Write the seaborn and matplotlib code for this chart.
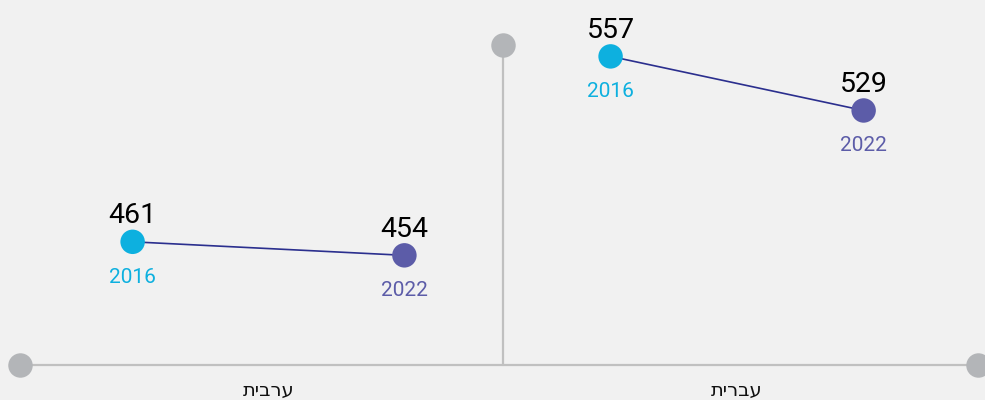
import matplotlib.pyplot as plt
import numpy as np
import pandas as pd
import seaborn as sns

# data
languages = ['ערבית', 'עברית']
years = ['2016', '2022']
scores_2016 = [461, 557]
scores_2022 = [454, 529]

year_colors = {'2016': '#0db0df', '2022': '#5c5ca8'}
line_color = '#2b2f8e'
gray = '#b3b5b8'
bg = '#f1f1f1'

# half distance between the two years inside each group (axis units)
spread = [0.29, 0.27]

rows = []
for i, lang in enumerate(languages):
    for j, (year, score) in enumerate(zip(years, [scores_2016[i], scores_2022[i]])):
        rows.append({'language': lang, 'year': year, 'score': score,
                     'x': i + (j * 2 - 1) * spread[i]})
df = pd.DataFrame(rows)

sns.set_theme(style='white')
plt.rcParams['font.family'] = ['Roboto', 'DejaVu Sans']

fig = plt.figure(figsize=(9.85, 4), dpi=100, facecolor=bg)
ax = fig.add_axes([0, 0, 1, 1])
ax.set_facecolor(bg)

baseline = 397
ax.set_xlim(-0.573, 1.529)
ax.set_ylim(379.1, 586.2)

# frame: baseline and divider with round caps
ax.plot([-0.53, 1.514], [baseline, baseline], color='#c0c0c0', lw=1.6, zorder=1)
ax.plot([0.5, 0.5], [baseline, 562.9], color='#c0c0c0', lw=1.6, zorder=1)
ax.scatter([-0.53, 1.514, 0.5], [baseline, baseline, 562.9], s=310, color=gray,
           linewidths=0, zorder=2, clip_on=False)

sns.lineplot(data=df, x='x', y='score', units='language', estimator=None,
             color=line_color, lw=1.2, ax=ax, zorder=2)
sns.scatterplot(data=df, x='x', y='score', hue='year', palette=year_colors,
                s=310, linewidth=0, legend=False, ax=ax, zorder=3)

for _, r in df.iterrows():
    ax.annotate(str(r['score']), (r['x'], r['score']), xytext=(0, 13.5),
                textcoords='offset points', ha='center', va='baseline',
                fontsize=20.5, color='black')
    ax.annotate(r['year'], (r['x'], r['score']), xytext=(0, -29.5),
                textcoords='offset points', ha='center', va='baseline',
                fontsize=15, color=year_colors[r['year']])

# hebrew labels under each group (reversed for right-to-left display)
for i, lang in enumerate(languages):
    ax.annotate(lang[::-1], (i, baseline), xytext=(0, -22),
                textcoords='offset points', ha='center', va='baseline',
                fontsize=14, color='#111111', family=['DejaVu Sans'])

ax.axis('off')
fig.savefig('out.png', dpi=100, facecolor=bg)
